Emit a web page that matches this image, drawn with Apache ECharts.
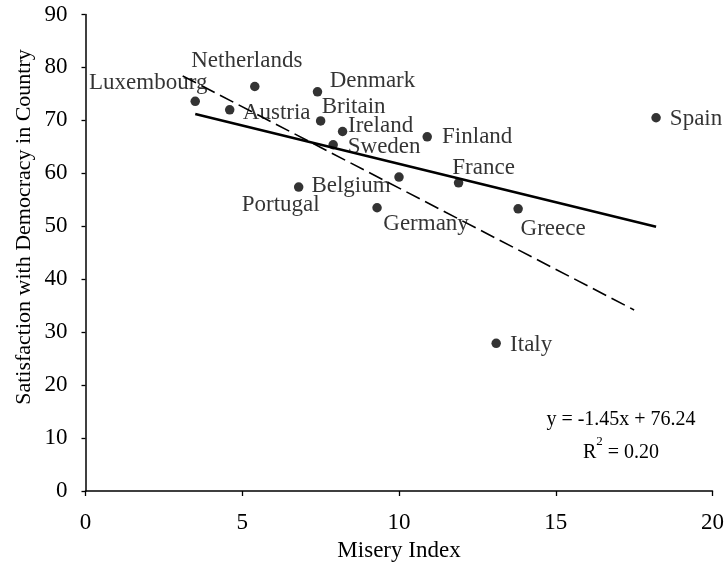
<!DOCTYPE html>
<html><head><meta charset="utf-8">
<script src="https://cdn.jsdelivr.net/npm/echarts@6/dist/echarts.min.js"></script>
<style>html,body{margin:0;padding:0;background:#fff}#c{width:727px;height:569px}</style>
</head><body><div id="c"></div>
<script>
// ---- data ----
const countries = ['Luxembourg','Netherlands','Austria','Denmark','Britain','Ireland','Sweden','Finland','Spain','France','Belgium','Portugal','Germany','Greece','Italy'];
const miseryIndex = [3.5, 5.4, 4.6, 7.4, 7.5, 8.2, 7.9, 10.9, 18.2, 11.9, 10.0, 6.8, 9.3, 13.8, 13.1];
const satisfaction = [73.6, 76.4, 72.0, 75.4, 69.9, 67.9, 65.4, 66.9, 70.5, 58.2, 59.3, 57.4, 53.5, 53.3, 27.9];
const fitLineX = [3.5, 18.2];
const fitLineY = [71.2, 49.9];
const dashedLineX = [3.1, 17.5];
const dashedLineY = [78.4, 34.2];
const xTickValues = [0, 5, 10, 15, 20];
const yTickValues = [0, 10, 20, 30, 40, 50, 60, 70, 80, 90];
const xTitle = 'Misery Index';
const yTitle = 'Satisfaction with Democracy in Country';
const equationText = 'y = -1.45x + 76.24';
const r2Value = '0.20';

// ---- label placement (style) ----
const labelOffsets = {
  Luxembourg: [-47, -18], Netherlands: [-8, -26], Austria: [47, 3], Denmark: [55, -11],
  Britain: [33, -14], Ireland: [38, -6], Sweden: [51, 2], Finland: [50, 0],
  Spain: [40, 1], France: [25, -15], Belgium: [-48, 9], Portugal: [-18, 18],
  Germany: [49, 16], Greece: [35, 20], Italy: [35, 2]
};

const FONT = "'Liberation Serif','Times New Roman',serif";
const TXT = '#000';
const SYM = 9.5;

const points = countries.map((name, i) => ({
  name: name,
  value: [miseryIndex[i], satisfaction[i]],
  label: { position: [SYM / 2 + labelOffsets[name][0], SYM / 2 + labelOffsets[name][1]] }
}));

const chart = echarts.init(document.getElementById('c'), null, { renderer: 'canvas' });
chart.setOption({
  animation: false,
  backgroundColor: '#fff',
  grid: { left: 85.5, right: 13.7, top: 14.5, bottom: 78, containLabel: false },
  xAxis: {
    type: 'value', min: xTickValues[0], max: xTickValues[xTickValues.length - 1], interval: 5,
    name: xTitle, nameLocation: 'middle', nameGap: 48,
    nameTextStyle: { fontFamily: FONT, fontSize: 23, color: TXT },
    axisLine: { onZero: false, lineStyle: { color: '#000', width: 1.5 } },
    axisTick: { show: true, inside: false, length: 5, lineStyle: { color: '#000', width: 1.3 } },
    axisLabel: { margin: 20, fontFamily: FONT, fontSize: 23, color: TXT },
    splitLine: { show: false }
  },
  yAxis: {
    type: 'value', min: yTickValues[0], max: yTickValues[yTickValues.length - 1], interval: 10,
    axisLine: { show: true, onZero: false, lineStyle: { color: '#000', width: 1.5 } },
    axisTick: { show: true, inside: false, length: 4, lineStyle: { color: '#000', width: 1.3 } },
    axisLabel: { margin: 18, fontFamily: FONT, fontSize: 23, color: TXT },
    splitLine: { show: false }
  },
  graphic: [
    {
      type: 'text', x: 24.5, y: 227, rotation: Math.PI / 2,
      style: { text: yTitle, font: '22px ' + FONT, fill: TXT, align: 'center', verticalAlign: 'middle' }
    },
    {
      type: 'text', x: 621, y: 420,
      style: { text: equationText, font: '20px ' + FONT, fill: TXT, align: 'center', verticalAlign: 'middle' }
    },
    {
      type: 'text', x: 621, y: 449,
      style: {
        text: '{b|R}{sup|2}{b| = ' + r2Value + '}', fill: TXT, align: 'center', verticalAlign: 'middle',
        rich: {
          b: { fontSize: 20, fontFamily: FONT, lineHeight: 28, verticalAlign: 'bottom' },
          sup: { fontSize: 13, fontFamily: FONT, lineHeight: 14, verticalAlign: 'top' }
        }
      }
    }
  ],
  series: [
    {
      type: 'line', data: dashedLineX.map((x, i) => [x, dashedLineY[i]]),
      symbol: 'none', silent: true,
      lineStyle: { color: '#000', width: 1.6, type: [15, 6] }
    },
    {
      type: 'line', data: fitLineX.map((x, i) => [x, fitLineY[i]]),
      symbol: 'none', silent: true,
      lineStyle: { color: '#000', width: 2.6 }
    },
    {
      type: 'scatter', data: points, symbol: 'circle', symbolSize: SYM,
      itemStyle: { color: '#000' },
      label: {
        show: true, formatter: '{b}',
        fontFamily: FONT, fontSize: 23, color: TXT, align: 'center', verticalAlign: 'middle'
      },
      labelLayout: { hideOverlap: false }
    }
  ]
});
</script>
</body></html>
